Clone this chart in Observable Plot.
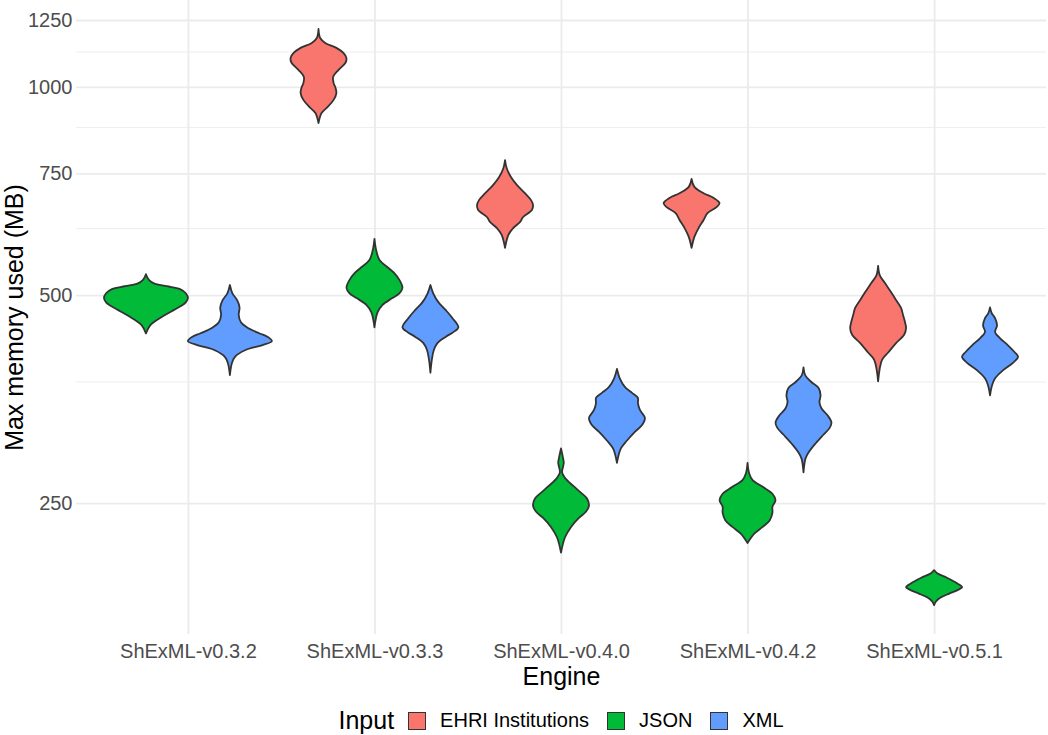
<!DOCTYPE html>
<html>
<head>
<meta charset="utf-8">
<script src="https://cdn.jsdelivr.net/npm/d3@7"></script>
<script src="https://cdn.jsdelivr.net/npm/@observablehq/plot@0.6"></script>
<style>
  html, body { margin: 0; padding: 0; background: #ffffff; }
  body { width: 1048px; height: 735px; overflow: hidden; font-family: "Liberation Sans", Arial, sans-serif; }
  #legend { height: 29px; width: 1048px; box-sizing: border-box; padding-left: 74px;
            display: flex; align-items: center; justify-content: center; }
  #legend .title { font-size: 25px; color: #000; margin-right: 14px; }
  #legend .sw { width: 16px; height: 16px; border: 1.5px solid #333333; margin-right: 14px; }
  #legend .lab { font-size: 20px; color: #000; margin-right: 18px; }
</style>
</head>
<body>
<div id="chart"></div>
<div id="legend"></div>
<script>
// ---- categories ----
const engines = ["ShExML-v0.3.2", "ShExML-v0.3.3", "ShExML-v0.4.0", "ShExML-v0.4.2", "ShExML-v0.5.1"];
const inputs = ["EHRI Institutions", "JSON", "XML"];
const inputColors = ["#F8766D", "#00BA38", "#619CFF"];
const yTicks = [250, 500, 750, 1000, 1250];
const yMinorTicks = [375, 625, 875, 1125];

// ---- violin profiles: memory (MB) from top to bottom, relative density width ----
const v032JsonMB = [536, 526, 520, 515, 510, 503, 495, 488, 482, 476, 463, 452, 440];
const v032JsonW  = [0, .07, .19, .5, .81, .95, 1, .95, .83, .67, .33, .1, 0];
const v032XmlMB  = [517, 503, 492, 480, 468, 457, 448, 440, 435, 429, 423, 416, 407, 399, 383];
const v032XmlW   = [0, .06, .17, .23, .21, .26, .43, .71, .9, 1, .76, .36, .12, .05, 0];

const v033EhriMB = [1213, 1177, 1158, 1139, 1120, 1101, 1083, 1058, 1034, 1013, 997, 980, 958, 935, 917, 887];
const v033EhriW  = [0, .06, .24, .64, .89, 1, .96, .71, .52, .54, .61, .64, .54, .32, .11, 0];
const v033JsonMB = [603, 581, 562, 549, 538, 526, 512, 503, 495, 484, 472, 449];
const v033JsonW  = [0, .06, .18, .46, .71, .89, 1, .89, .64, .29, .11, 0];
const v033XmlMB  = [517, 503, 488, 476, 463, 449, 442, 435, 426, 416, 403, 386];
const v033XmlW   = [0, .1, .29, .54, .79, 1, .82, .54, .25, .12, .05, 0];

const v040EhriMB = [784, 763, 741, 721, 702, 686, 675, 664, 648, 638, 625, 611, 585];
const v040EhriW  = [0, .06, .21, .43, .71, .93, 1, .96, .64, .54, .29, .12, 0];
const v040JsonMB = [300, 291, 286, 277, 272, 265, 259, 254, 248, 243, 238, 231, 223, 212];
const v040JsonW  = [0, .07, .1, .04, .14, .43, .71, .93, 1, .89, .64, .36, .14, 0];
const v040XmlMB  = [391, 379, 368, 361, 355, 349, 341, 332, 324, 317, 308, 300, 286];
const v040XmlW   = [0, .1, .29, .54, .75, .75, .82, 1, .89, .64, .36, .14, 0];

const v042EhriMB = [736, 717, 702, 691, 679, 670, 657, 642, 625, 607, 585];
const v042EhriW  = [0, .1, .43, .79, 1, .89, .57, .43, .25, .1, 0];
const v042JsonMB = [286, 276, 270, 264, 258, 252.5, 247, 242, 236, 231, 226, 219];
const v042JsonW  = [0, .06, .18, .54, .89, 1, .89, .89, .79, .54, .25, 0];
const v042XmlMB  = [393, 383, 374, 367, 358, 350, 343, 335, 327, 321, 314, 305, 296, 290, 277];
const v042XmlW   = [0, .06, .29, .54, .61, .57, .64, .86, 1, .93, .71, .43, .18, .07, 0];

const v051EhriMB = [551, 534, 520, 505, 492, 479, 468, 457, 448, 438, 426, 413, 403, 375];
const v051EhriW  = [0, .06, .25, .46, .64, .82, .89, .96, 1, .93, .64, .36, .14, 0];
const v051JsonMB = [200, 198, 195, 191.5, 189, 187, 185, 182, 180, 178];
const v051JsonW  = [0, .11, .46, .82, 1, .82, .54, .18, .06, 0];
const v051XmlMB  = [480, 471, 463, 452, 442, 433, 423, 413, 407, 399, 389, 379, 370, 358];
const v051XmlW   = [0, .06, .18, .25, .18, .36, .64, .89, 1, .82, .46, .18, .07, 0];

const violins = [
  ["ShExML-v0.3.2", "JSON", v032JsonMB, v032JsonW],
  ["ShExML-v0.3.2", "XML", v032XmlMB, v032XmlW],
  ["ShExML-v0.3.3", "EHRI Institutions", v033EhriMB, v033EhriW],
  ["ShExML-v0.3.3", "JSON", v033JsonMB, v033JsonW],
  ["ShExML-v0.3.3", "XML", v033XmlMB, v033XmlW],
  ["ShExML-v0.4.0", "EHRI Institutions", v040EhriMB, v040EhriW],
  ["ShExML-v0.4.0", "JSON", v040JsonMB, v040JsonW],
  ["ShExML-v0.4.0", "XML", v040XmlMB, v040XmlW],
  ["ShExML-v0.4.2", "EHRI Institutions", v042EhriMB, v042EhriW],
  ["ShExML-v0.4.2", "JSON", v042JsonMB, v042JsonW],
  ["ShExML-v0.4.2", "XML", v042XmlMB, v042XmlW],
  ["ShExML-v0.5.1", "EHRI Institutions", v051EhriMB, v051EhriW],
  ["ShExML-v0.5.1", "JSON", v051JsonMB, v051JsonW],
  ["ShExML-v0.5.1", "XML", v051XmlMB, v051XmlW]
];

// ---- build table with dodge (ggplot position_dodge width 0.9) ----
const dodgeWidth = 0.9;
const rows = [];
for (const [eng, inp, mbs, ws] of violins) {
  const present = inputs.filter(i => violins.some(v => v[0] === eng && v[1] === i));
  const n = present.length, k = present.indexOf(inp);
  const slot = dodgeWidth / n;
  const center = engines.indexOf(eng) + 1 + (k - (n - 1) / 2) * slot;
  mbs.forEach((mb, j) => rows.push({
    id: eng + "|" + inp, input: inp, mb,
    x1: center - ws[j] * slot / 2, x2: center + ws[j] * slot / 2
  }));
}

const engineIdx = engines.map((d, i) => i + 1);

const chart = Plot.plot({
  width: 1048,
  height: 706,
  marginLeft: 76,
  marginRight: 2,
  marginTop: 0,
  marginBottom: 72,
  style: { fontFamily: "Liberation Sans, Arial, sans-serif", background: "#ffffff", overflow: "visible" },
  x: { type: "linear", domain: [0.4, 5.6], axis: null, label: null },
  y: { type: "log", domain: [161.7, 1336], axis: null, label: null },
  color: { domain: inputs, range: inputColors },
  marks: [
    Plot.ruleY(yMinorTicks, { stroke: "#EBEBEB", strokeWidth: 0.9 }),
    Plot.ruleY(yTicks, { stroke: "#EBEBEB", strokeWidth: 1.8 }),
    Plot.ruleX(engineIdx, { stroke: "#EBEBEB", strokeWidth: 1.8 }),
    Plot.areaX(rows, {
      y: "mb", x1: "x1", x2: "x2", z: "id", fill: "input",
      stroke: "#333333", strokeWidth: 1.8, curve: "catmull-rom"
    }),
    Plot.axisY({
      ticks: yTicks, tickSize: 0, tickPadding: 4, tickFormat: d => String(d),
      fontSize: 20, fill: "#4D4D4D", label: null
    }),
    Plot.axisX({
      ticks: engineIdx, tickSize: 0, tickPadding: 9, tickFormat: i => engines[i - 1],
      fontSize: 20, fill: "#4D4D4D", label: null
    }),
    Plot.text(["Max memory used (MB)"], {
      text: d => d, frameAnchor: "left", textAnchor: "middle", lineAnchor: "middle",
      rotate: -90, dx: -62, fontSize: 25, fill: "#000"
    }),
    Plot.text(["Engine"], {
      text: d => d, frameAnchor: "bottom", textAnchor: "middle", lineAnchor: "middle",
      dy: 42, fontSize: 25, fill: "#000"
    })
  ]
});
document.getElementById("chart").appendChild(chart);

// ---- legend ----
const legend = document.getElementById("legend");
const t = document.createElement("span");
t.className = "title"; t.textContent = "Input";
legend.appendChild(t);
inputs.forEach((inp, i) => {
  const sw = document.createElement("span");
  sw.className = "sw"; sw.style.background = inputColors[i];
  legend.appendChild(sw);
  const lab = document.createElement("span");
  lab.className = "lab"; lab.textContent = inp;
  if (i === inputs.length - 1) lab.style.marginRight = "0";
  legend.appendChild(lab);
});
</script>
</body>
</html>
